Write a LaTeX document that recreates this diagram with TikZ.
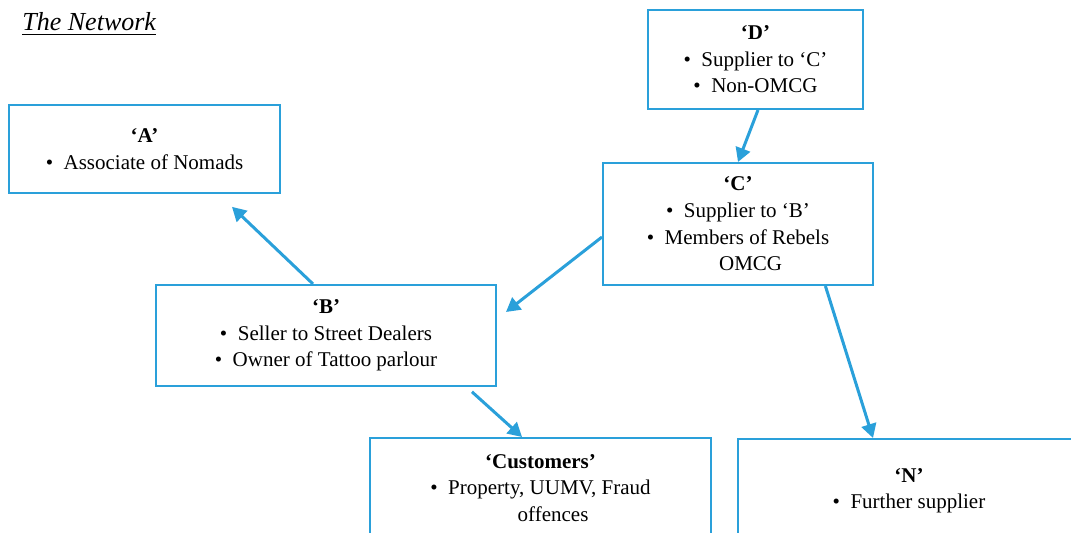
\documentclass[tikz,border=0pt]{standalone}
\usepackage{fontspec}
\setmainfont{Liberation Serif}
\usetikzlibrary{arrows.meta}
\definecolor{netblue}{RGB}{42,160,218}
\newcommand{\itm}{\textbullet\hspace{0.5em}}
\tikzset{
  box/.style={draw=netblue, line width=1pt, align=center, inner sep=0pt,
    font=\fontsize{10.5}{13.3}\selectfont},
  link/.style={draw=netblue, line width=1.5pt, -{Triangle[length=7pt,width=7.5pt]}},
}
\begin{document}
\begin{tikzpicture}[x=0.5pt,y=-0.5pt]
\clip (0,0) rectangle (1071,533);
\node[anchor=base west, inner sep=0pt, font=\fontsize{13}{15}\selectfont\itshape] (title) at (22,31) {\underline{The Network}};
% the people
\node[box, minimum width=135.5pt, minimum height=44pt] (A) at (144.5,149) {\textbf{‘A’}\\ \itm Associate of Nomads};
\node[box, minimum width=107.5pt, minimum height=49.5pt] (D) at (755.5,59.5) {\textbf{‘D’}\\ \itm Supplier to ‘C’\\ \itm Non-OMCG};
\node[box, minimum width=135pt, minimum height=61pt] (C) at (738,224) {\textbf{‘C’}\\ \itm Supplier to ‘B’\\ \itm Members of Rebels\\ \hspace*{1.2em}OMCG};
\node[box, minimum width=170pt, minimum height=50.5pt] (B) at (326,335.5) {\textbf{‘B’}\\ \itm Seller to Street Dealers\\ \itm Owner of Tattoo parlour};
% bottom row, running off the page
\node[box, anchor=north, minimum width=170.5pt, inner ysep=8.2pt, text depth=60pt] (cust) at (540.5,437) {\textbf{‘Customers’}\\ \itm Property, UUMV, Fraud\\ \hspace*{1.2em}offences};
\node[box, anchor=north, minimum width=171pt, inner ysep=14.7pt, text depth=60pt] (N) at (909,438) {\textbf{‘N’}\\ \itm Further supplier};
% links
\draw[link] ([xshift=1.25pt]D.south) -- (C.north);
\draw[link, shorten >=5.7pt] ([yshift=-6.5pt]C.west) -- ([yshift=8.25pt]B.east);
\draw[link, shorten >=9.3pt] ([xshift=-6.5pt]B.north) -- ([xshift=37pt]A.south);
\draw[link, shorten <=3.6pt] ([xshift=70.3pt]B.south) -- ([xshift=-9.25pt]cust.north);
\draw[link] ([xshift=43.7pt]C.south) -- ([xshift=-18pt]N.north);
\end{tikzpicture}
\end{document}
